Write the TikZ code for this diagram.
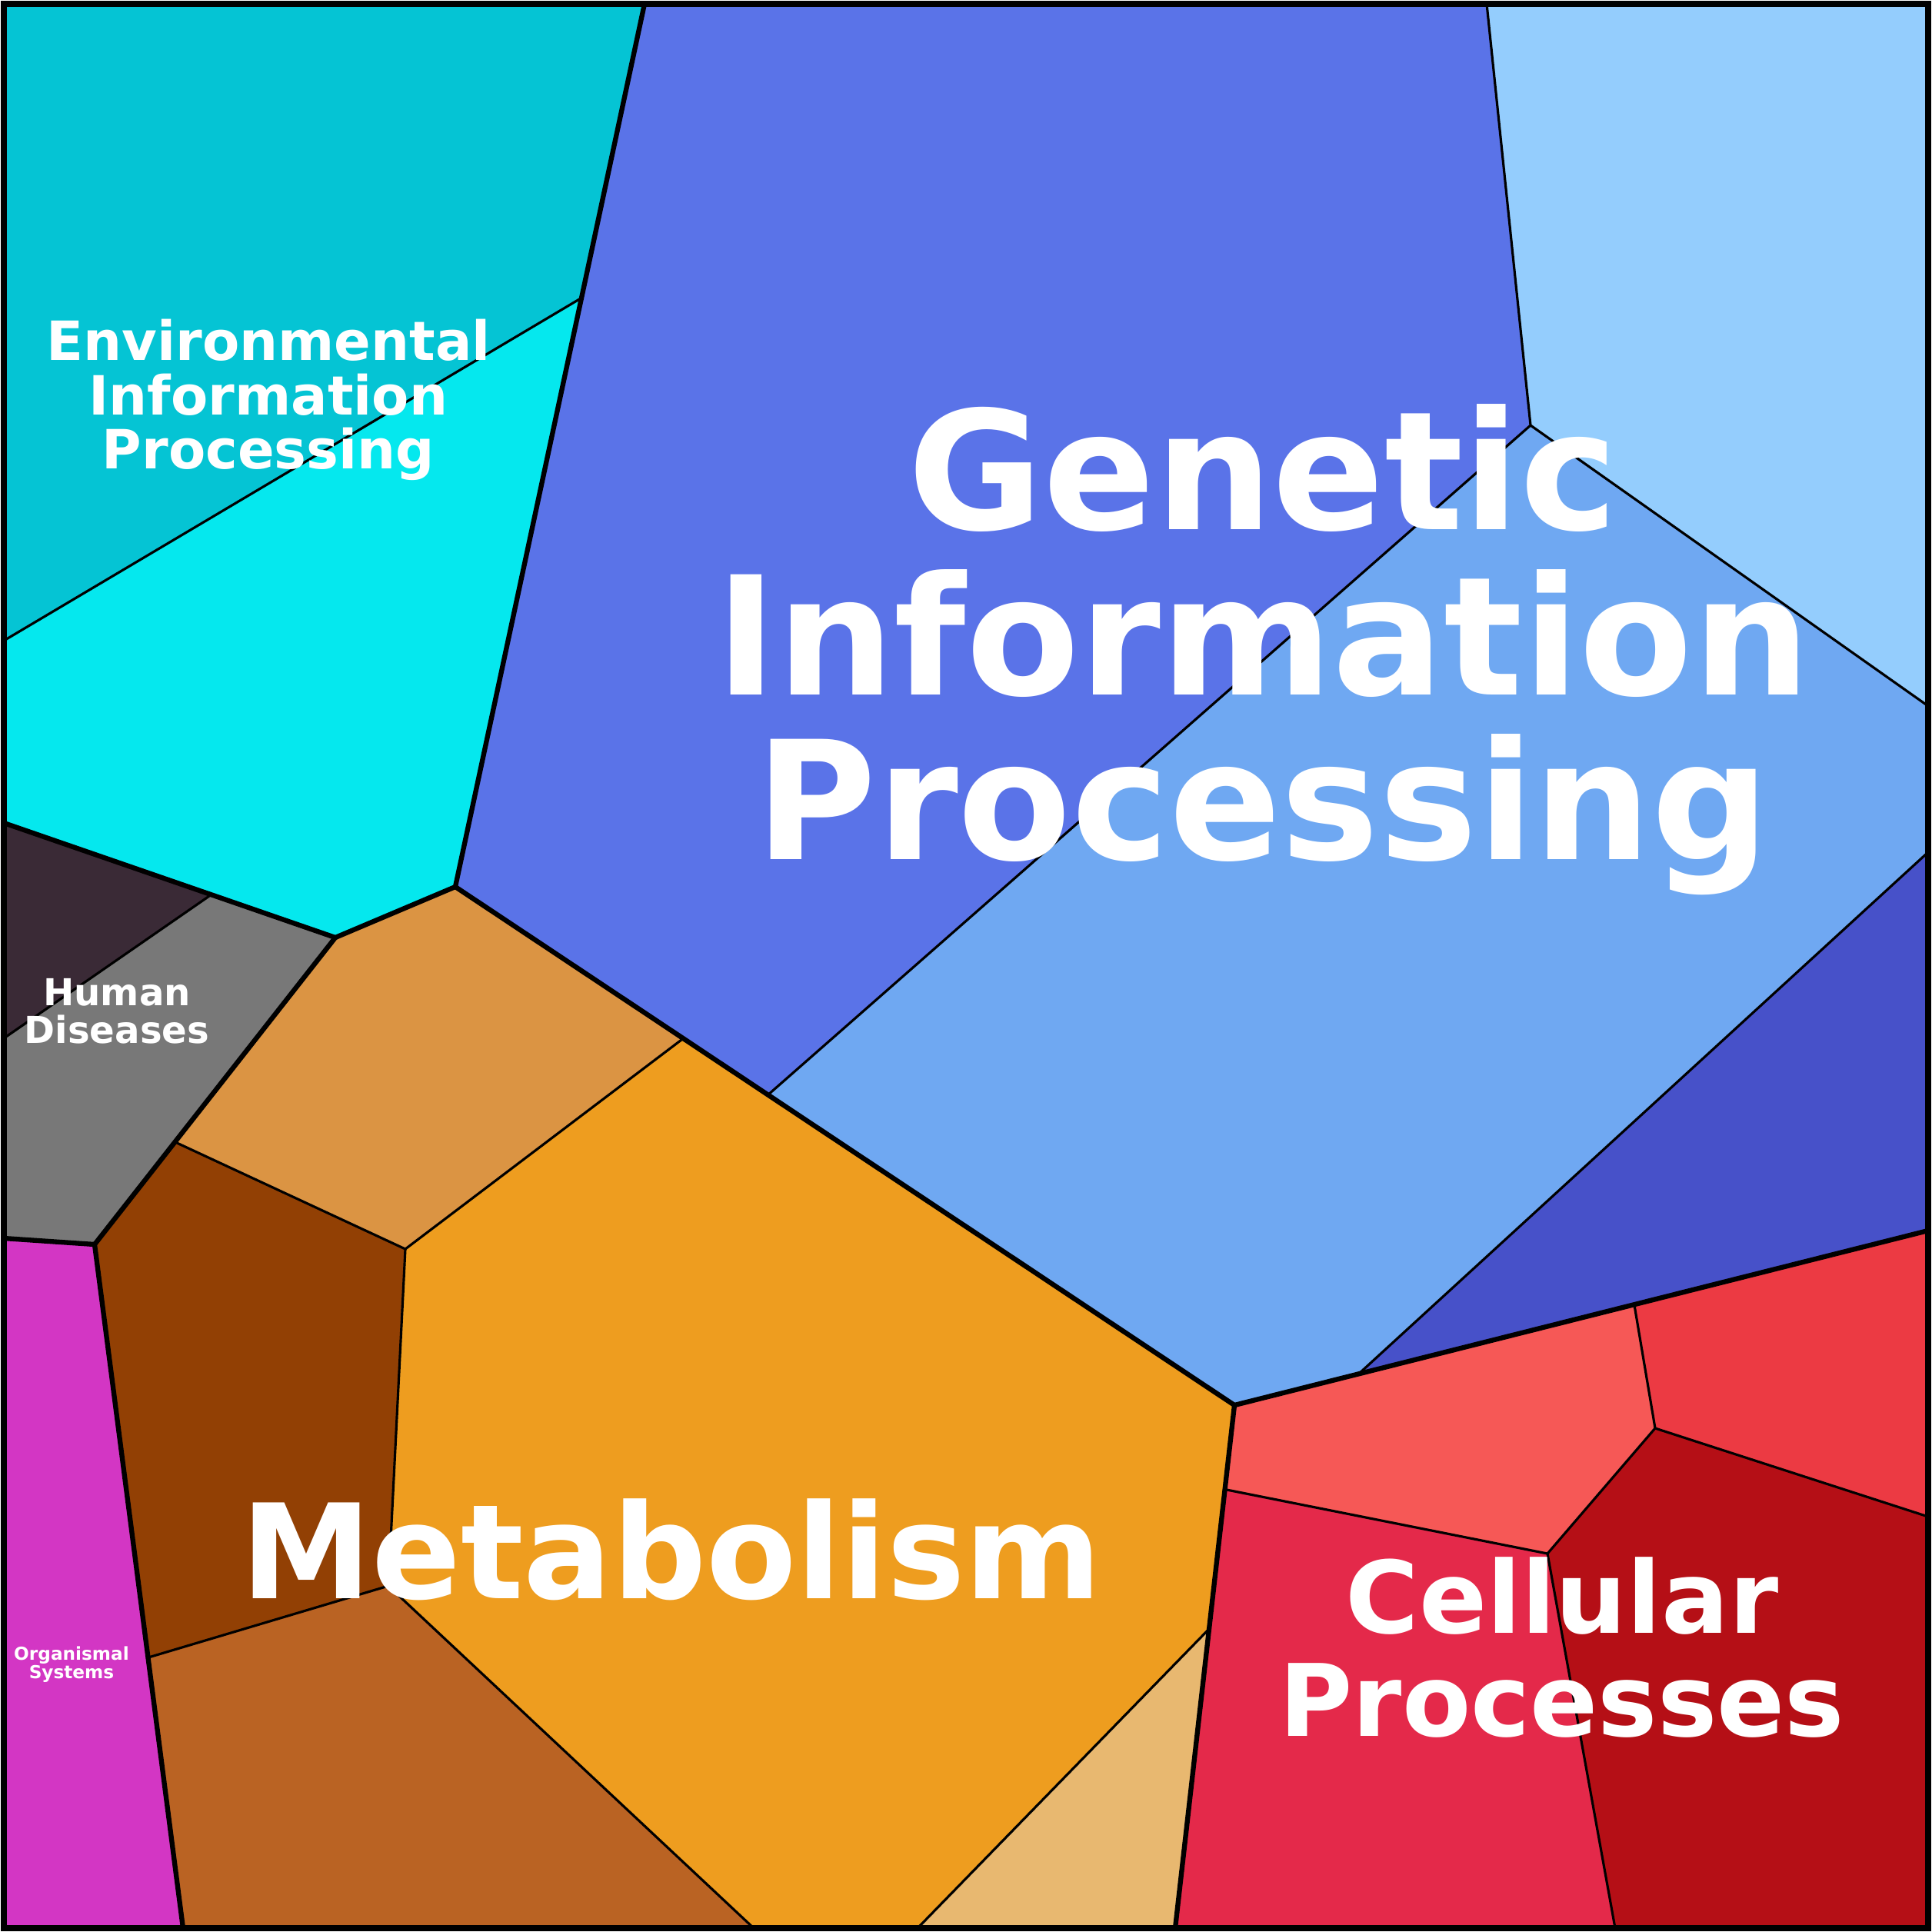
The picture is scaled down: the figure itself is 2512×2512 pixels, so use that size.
\documentclass[tikz,border=0pt]{standalone}
\usepackage{fontspec}
\setmainfont{DejaVu Sans}
\definecolor{envA}{HTML}{05C4D4}
\definecolor{envB}{HTML}{05E8EE}
\definecolor{genA}{HTML}{5A73E8}
\definecolor{genB}{HTML}{94CDFD}
\definecolor{genC}{HTML}{6FA8F2}
\definecolor{genD}{HTML}{4751C9}
\definecolor{humA}{HTML}{3A2A36}
\definecolor{humB}{HTML}{787878}
\definecolor{orgA}{HTML}{D336C4}
\definecolor{metA}{HTML}{DB9443}
\definecolor{metB}{HTML}{924004}
\definecolor{metC}{HTML}{BA6323}
\definecolor{metD}{HTML}{EE9D1F}
\definecolor{metE}{HTML}{E8B870}
\definecolor{celA}{HTML}{F65856}
\definecolor{celB}{HTML}{EC3A43}
\definecolor{celC}{HTML}{E4294A}
\definecolor{celD}{HTML}{B50F16}
\tikzset{
  cell/.style={draw=black, line width=0.9pt, line join=round},
  group/.style={draw=black, line width=1.8pt, line join=round},
  lbl/.style={text=white, font=\bfseries, align=center}
}
\begin{document}
\begin{tikzpicture}[x=0.01cm, y=-0.01cm]
  \useasboundingbox (0,0) rectangle (2512,2512);
  % Environmental Information Processing
  \fill [envA] (5,5) -- (838,5) -- (755,388) -- (5,833) -- cycle;
  \fill [envB] (755,388) -- (592,1153) -- (436,1219) -- (5,1070) -- (5,833) -- cycle;
  \draw [cell] (755,388) -- (5,833);
  % Genetic Information Processing
  \fill [genA] (838,5) -- (1933,5) -- (1990,553) -- (998,1424) -- (592,1153) -- cycle;
  \fill [genB] (1933,5) -- (2507,5) -- (2507,918) -- (1990,553) -- cycle;
  \fill [genC] (998,1424) -- (1990,553) -- (2507,918) -- (2507,1108) -- (1768,1785) -- (1605,1827) -- cycle;
  \fill [genD] (2507,1108) -- (2507,1600) -- (1768,1785) -- cycle;
  \draw [cell] (1933,5) -- (1990,553) -- (998,1424);
  \draw [cell] (1990,553) -- (2507,918);
  \draw [cell] (2507,1108) -- (1768,1785);
  % Human Diseases
  \fill [humA] (5,1070) -- (275,1163) -- (5,1350) -- cycle;
  \fill [humB] (275,1163) -- (436,1219) -- (123,1618) -- (5,1610) -- (5,1350) -- cycle;
  \draw [cell] (275,1163) -- (5,1350);
  % Organismal Systems
  \fill [orgA] (5,1610) -- (123,1618) -- (238,2507) -- (5,2507) -- cycle;
  % Metabolism
  \fill [metA] (436,1219) -- (592,1153) -- (886,1352) -- (527,1624) -- (230,1486) -- cycle;
  \fill [metB] (230,1486) -- (527,1624) -- (505,2062) -- (193,2155) -- (123,1618) -- cycle;
  \fill [metC] (193,2155) -- (505,2062) -- (980,2507) -- (238,2507) -- cycle;
  \fill [metD] (886,1352) -- (1605,1827) -- (1570,2120) -- (1193,2507) -- (980,2507) -- (505,2062) -- (527,1624) -- cycle;
  \fill [metE] (1570,2120) -- (1528,2507) -- (1193,2507) -- cycle;
  \draw [cell] (230,1486) -- (527,1624) -- (886,1352);
  \draw [cell] (527,1624) -- (505,2062) -- (193,2155);
  \draw [cell] (505,2062) -- (980,2507);
  \draw [cell] (1570,2120) -- (1193,2507);
  % Cellular Processes
  \fill [celA] (1605,1827) -- (2125,1697) -- (2152,1857) -- (2012,2020) -- (1595,1937) -- cycle;
  \fill [celB] (2125,1697) -- (2507,1600) -- (2507,1972) -- (2152,1857) -- cycle;
  \fill [celC] (1595,1937) -- (2012,2020) -- (2100,2507) -- (1528,2507) -- cycle;
  \fill [celD] (2152,1857) -- (2507,1972) -- (2507,2507) -- (2100,2507) -- (2012,2020) -- cycle;
  \draw [cell] (2125,1697) -- (2152,1857) -- (2507,1972);
  \draw [cell] (2152,1857) -- (2012,2020) -- (2100,2507);
  \draw [cell] (1595,1937) -- (2012,2020);
  % Gruppengrenzen
  \draw [group] (838,5) -- (592,1153) -- (436,1219) -- (5,1070);
  \draw [group] (436,1219) -- (123,1618) -- (5,1610);
  \draw [group] (123,1618) -- (238,2507);
  \draw [group] (592,1153) -- (1605,1827) -- (1528,2507);
  \draw [group] (1605,1827) -- (2507,1600);
  \draw [line width=2.4pt] (5,5) rectangle (2507,2507);
  % Beschriftung
  \node (gen) [lbl, font=\fontsize{61}{61}\selectfont\bfseries] at (1642,845) {Genetic\\Information\\Processing};
  \node (met) [lbl, font=\fontsize{48.6}{52}\selectfont\bfseries] at (873,2015) {Metabolism};
  \node (cel) [lbl, font=\fontsize{37}{38}\selectfont\bfseries] at (2031,2142) {Cellular\\Processes};
  \node (env) [lbl, font=\fontsize{20}{20}\selectfont\bfseries] at (349,520) {Environmental\\Information\\Processing};
  \node (hum) [lbl, font=\fontsize{13.7}{14}\selectfont\bfseries] at (152,1315) {Human\\Diseases};
  \node (org) [lbl, font=\fontsize{6.6}{7}\selectfont\bfseries] at (93,2164) {Organismal\\Systems};
\end{tikzpicture}
\end{document}
